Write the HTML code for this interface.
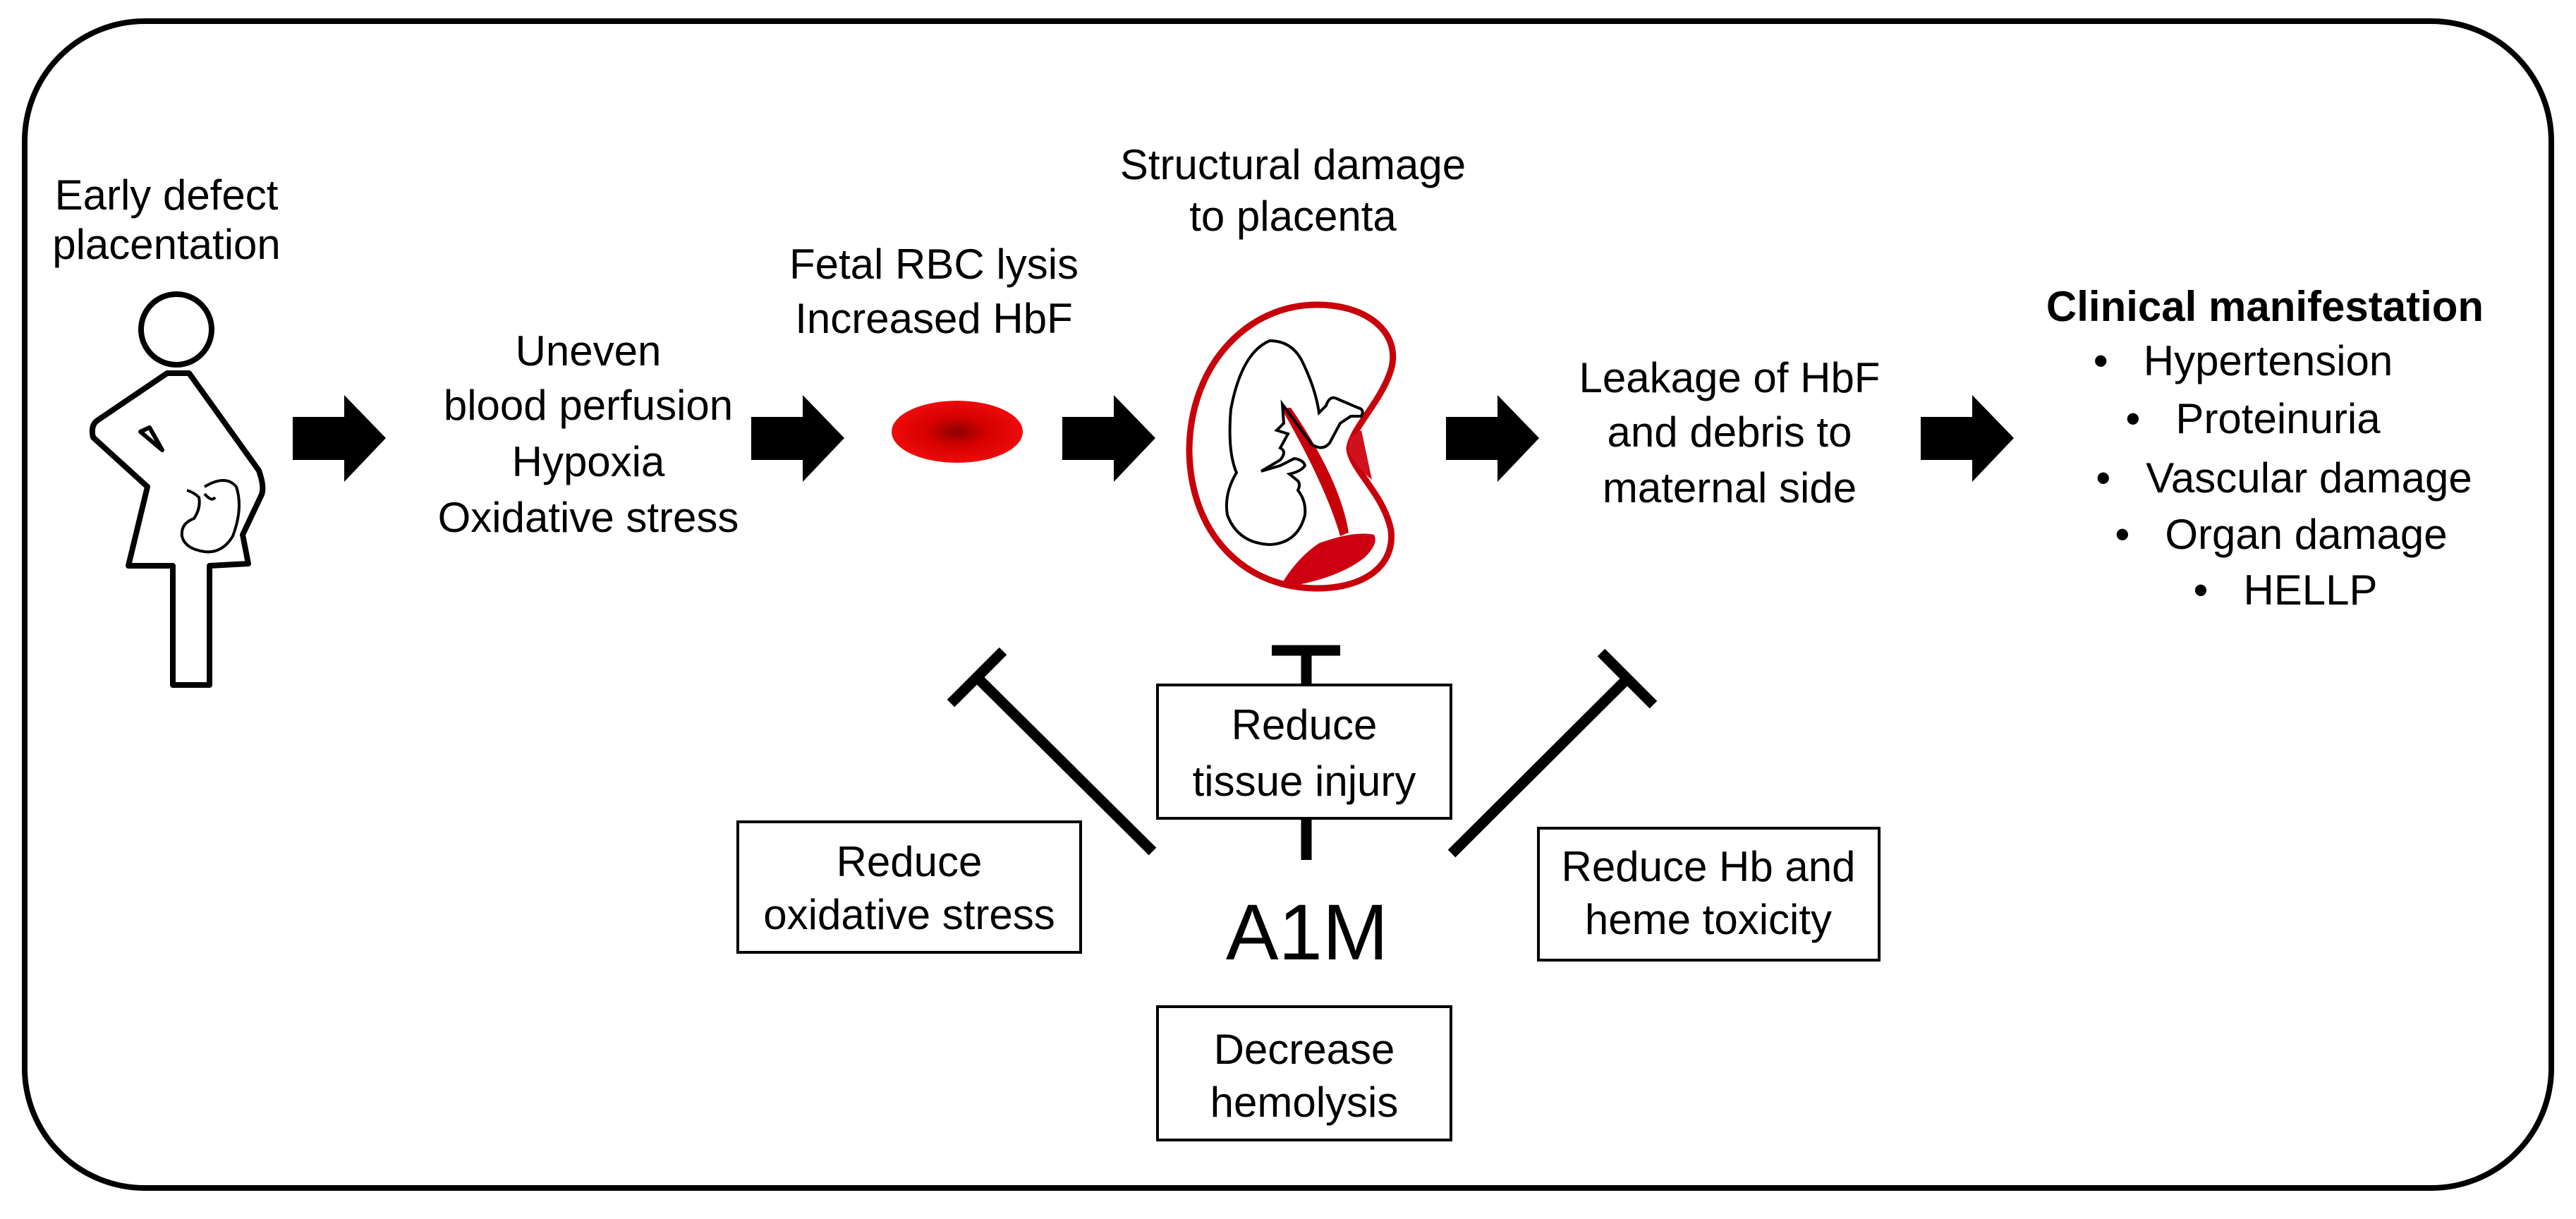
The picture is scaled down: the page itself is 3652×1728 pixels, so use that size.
<!DOCTYPE html>
<html><head><meta charset="utf-8">
<style>
html,body{margin:0;padding:0;background:#fff;}
svg{display:block;}
text{font-family:"Liberation Sans",sans-serif;font-size:60px;fill:#000;}
</style></head>
<body>
<svg width="3652" height="1728" viewBox="0 0 3652 1728" xmlns="http://www.w3.org/2000/svg">
<defs>
<radialGradient id="rbc" cx="50%" cy="50%" r="50%">
<stop offset="0" stop-color="#8a0000"/>
<stop offset="0.45" stop-color="#d40000"/>
<stop offset="1" stop-color="#ee0a0a"/>
</radialGradient>
<marker id="none"/>
</defs>
<rect x="0" y="0" width="3652" height="1728" fill="#fff"/>
<rect x="35" y="30" width="3582" height="1654" rx="170" ry="170" fill="none" stroke="#000" stroke-width="8"/>

<!-- Woman -->
<g fill="#fff" stroke="#000" stroke-width="8" stroke-linejoin="round">
<circle cx="250" cy="467" r="50"/>
<path d="M237,529 L268,529 L367,667 Q375,690 371,701 L344,758 L352,799 L297,802 L297,971 L245,971 L245,802 L182,802 L209,690 L132,620 Q128,603 138,596 Z"/>
<path d="M199,612 L212,606 L230,638 Z" stroke-width="6"/>
</g>
<g fill="none" stroke="#000" stroke-width="4">
<path d="M290,690 Q320,672 335,690 Q345,720 330,760 Q315,785 290,782 Q262,778 258,760 Q256,742 275,735 Q285,720 282,705 Q275,698 265,695"/>
<path d="M290,700 Q300,712 305,705"/>
</g>

<!-- Arrows -->
<g fill="#000">
<path d="M415,591 H488 V560 L547,621 L488,683 V652 H415 Z"/>
<path d="M1065,591 H1138 V560 L1197,621 L1138,683 V652 H1065 Z"/>
<path d="M1506,591 H1579 V560 L1638,621 L1579,683 V652 H1506 Z"/>
<path d="M2050,591 H2123 V560 L2182,621 L2123,683 V652 H2050 Z"/>
<path d="M2723,591 H2796 V560 L2855,621 L2796,683 V652 H2723 Z"/>
</g>

<!-- RBC -->
<ellipse cx="1357" cy="612" rx="93" ry="44" fill="url(#rbc)"/>

<!-- Placenta -->
<path d="M1867,432 C1945,432 1990,478 1970,530 C1955,572 1915,610 1913,636 C1915,665 1962,700 1972,752 C1978,805 1930,834 1867,834 C1765,834 1688,758 1686,640 C1686,518 1768,432 1867,432 Z" fill="#fff" stroke="#c8000a" stroke-width="9"/>
<path d="M1913,620 L1930,610 L1945,680 Q1925,665 1911,640 Z" fill="#d0101c"/>
<path d="M1820,578 L1830,578 Q1900,680 1912,755 L1900,760 Q1880,690 1820,585 Z" fill="#c8000a"/>
<path d="M1818,826 Q1840,790 1870,770 Q1920,752 1948,758 Q1955,770 1935,790 Q1900,818 1835,830 Z" fill="#cc0010"/>
<g fill="none" stroke="#000" stroke-width="4">
<path d="M1800,483 Q1760,500 1745,580 Q1740,640 1753,670 Q1735,700 1740,730 Q1755,770 1800,772 Q1840,770 1850,730 Q1852,710 1840,695 Q1845,685 1838,680 L1828,672 Q1845,668 1850,660 Q1848,652 1835,650 L1815,660 L1788,668 L1815,652 Q1825,640 1815,635 L1826,615 L1810,610 L1820,600 L1818,573 L1860,630 Q1875,640 1885,628 L1900,600 L1915,590 L1930,590 Q1935,580 1925,578 L1895,565 Q1885,560 1880,575 L1870,585 Q1865,550 1845,510 Q1830,483 1800,483 Z"/>
</g>

<!-- Text -->
<text x="236" y="297" text-anchor="middle">Early defect</text>
<text x="236" y="367" text-anchor="middle">placentation</text>

<text x="834" y="518" text-anchor="middle">Uneven</text>
<text x="834" y="595" text-anchor="middle">blood perfusion</text>
<text x="834" y="675" text-anchor="middle">Hypoxia</text>
<text x="834" y="754" text-anchor="middle">Oxidative stress</text>

<text x="1324" y="395" text-anchor="middle">Fetal RBC lysis</text>
<text x="1324" y="472" text-anchor="middle">Increased HbF</text>

<text x="1833" y="254" text-anchor="middle">Structural damage</text>
<text x="1833" y="327" text-anchor="middle">to placenta</text>

<text x="2452" y="556" text-anchor="middle">Leakage of HbF</text>
<text x="2452" y="633" text-anchor="middle">and debris to</text>
<text x="2452" y="712" text-anchor="middle">maternal side</text>

<text x="3211" y="455" text-anchor="middle" font-weight="bold">Clinical manifestation</text>
<text x="3180" y="532" text-anchor="middle" xml:space="preserve">•   Hypertension</text>
<text x="3194" y="614" text-anchor="middle" xml:space="preserve">•   Proteinuria</text>
<text x="3238" y="698" text-anchor="middle" xml:space="preserve">•   Vascular damage</text>
<text x="3234" y="778" text-anchor="middle" xml:space="preserve">•   Organ damage</text>
<text x="3240" y="857" text-anchor="middle" xml:space="preserve">•   HELLP</text>

<!-- Inhibitor lines -->
<g stroke="#000" stroke-width="15" fill="none">
<line x1="1634" y1="1207" x2="1385" y2="960"/>
<line x1="1422" y1="923" x2="1348" y2="997"/>
<line x1="1852" y1="1219" x2="1852" y2="922"/>
<line x1="1803" y1="922" x2="1900" y2="922"/>
<line x1="2058" y1="1210" x2="2307" y2="962"/>
<line x1="2270" y1="925" x2="2344" y2="999"/>
</g>

<!-- Boxes -->
<g fill="#fff" stroke="#000" stroke-width="4">
<rect x="1046" y="1165" width="486" height="185"/>
<rect x="1641" y="971" width="416" height="189"/>
<rect x="2181" y="1174" width="483" height="187"/>
<rect x="1641" y="1427" width="416" height="189"/>
</g>
<text x="1289" y="1242" text-anchor="middle">Reduce</text>
<text x="1289" y="1317" text-anchor="middle">oxidative stress</text>
<text x="1849" y="1048" text-anchor="middle">Reduce</text>
<text x="1849" y="1128" text-anchor="middle">tissue injury</text>
<text x="2422" y="1249" text-anchor="middle">Reduce Hb and</text>
<text x="2422" y="1324" text-anchor="middle">heme toxicity</text>
<text x="1849" y="1508" text-anchor="middle">Decrease</text>
<text x="1849" y="1583" text-anchor="middle">hemolysis</text>

<text x="1853" y="1360" text-anchor="middle" style="font-size:112px">A1M</text>
</svg>
</body></html>
